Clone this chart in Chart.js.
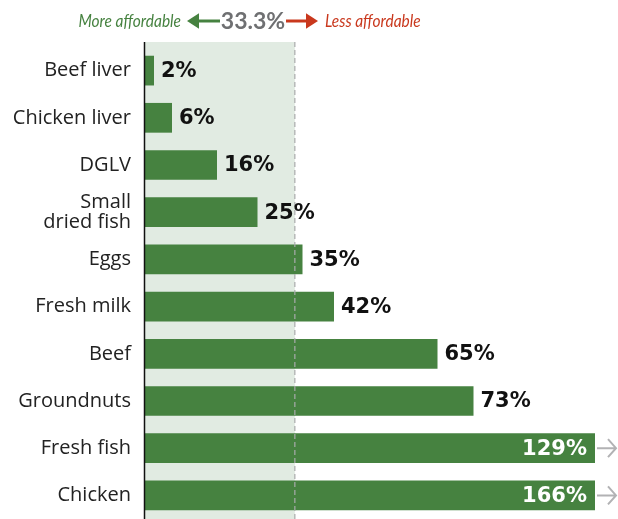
<!DOCTYPE html>
<html>
<head>
<meta charset="utf-8">
<script src="https://cdn.jsdelivr.net/npm/chart.js@4"></script>
<style>
  html, body { margin: 0; padding: 0; background: #fff; }
  #wrap { width: 618px; height: 519px; position: relative; }
</style>
</head>
<body>
<div id="wrap"><canvas id="costChart"></canvas></div>
<script>
const categories = ["Beef liver", "Chicken liver", "DGLV", ["Small", "dried fish"], "Eggs",
  "Fresh milk", "Beef", "Groundnuts", "Fresh fish", "Chicken"];
const shares = [2, 6, 16, 25, 35, 42, 65, 73, 129, 166];
const threshold = 33.3;
const axisMax = 100;

const GREEN = "#468240";
const RED = "#c9381d";
const GREY = "#6f7072";

function arrow(ctx, x1, x2, y, color, width, head) {
  const dir = Math.sign(x2 - x1);
  ctx.strokeStyle = color;
  ctx.fillStyle = color;
  ctx.lineWidth = width;
  ctx.beginPath();
  ctx.moveTo(x1, y);
  ctx.lineTo(x2 - dir * head, y);
  ctx.stroke();
  ctx.beginPath();
  ctx.moveTo(x2, y);
  ctx.lineTo(x2 - dir * head, y - head * 0.65);
  ctx.lineTo(x2 - dir * head, y + head * 0.65);
  ctx.closePath();
  ctx.fill();
}

// open chevron arrow for bars running past the axis
function chevron(ctx, x1, x2, y) {
  ctx.strokeStyle = "#b2b2b4";
  ctx.lineWidth = 2;
  ctx.beginPath();
  ctx.moveTo(x1, y);
  ctx.lineTo(x2, y);
  ctx.moveTo(x2 - 8, y - 9);
  ctx.lineTo(x2, y);
  ctx.lineTo(x2 - 8, y + 9);
  ctx.stroke();
}

// narrow italic text: squeeze horizontally around the anchor
function narrowText(ctx, text, x, y, squeeze) {
  ctx.save();
  ctx.translate(x, y);
  ctx.scale(squeeze, 1);
  ctx.fillText(text, 0, 0);
  ctx.restore();
}

// shaded "affordable" band behind the bars
const bandPlugin = {
  id: "band",
  beforeDatasetsDraw(chart) {
    const { ctx, scales: { x }, chartArea } = chart;
    ctx.save();
    ctx.fillStyle = "#e1ebe2";
    ctx.fillRect(x.getPixelForValue(0), 42, x.getPixelForValue(threshold) - x.getPixelForValue(0), chartArea.bottom - 42);
    ctx.restore();
  }
};

// threshold line, axis line, value labels, header
const overlayPlugin = {
  id: "overlay",
  afterDatasetsDraw(chart) {
    const { ctx, scales: { x }, chartArea } = chart;
    const meta = chart.getDatasetMeta(0);
    ctx.save();

    const tx = x.getPixelForValue(threshold);
    ctx.strokeStyle = "#a9aaac";
    ctx.lineWidth = 1.2;
    ctx.setLineDash([5, 3]);
    ctx.beginPath();
    ctx.moveTo(tx, 42);
    ctx.lineTo(tx, chartArea.bottom);
    ctx.stroke();
    ctx.setLineDash([]);

    const x0 = x.getPixelForValue(0);
    ctx.strokeStyle = "#111";
    ctx.lineWidth = 1.5;
    ctx.beginPath();
    ctx.moveTo(x0 - 0.5, 42);
    ctx.lineTo(x0 - 0.5, chartArea.bottom);
    ctx.stroke();

    ctx.font = "bold 21px 'DejaVu Sans'";
    ctx.textBaseline = "middle";
    meta.data.forEach((bar, i) => {
      const v = shares[i];
      const text = v + "%";
      if (v > axisMax) {
        ctx.fillStyle = "#fff";
        ctx.textAlign = "right";
        ctx.fillText(text, chartArea.right - 8, bar.y + 1);
        chevron(ctx, chartArea.right + 2, chartArea.right + 21, bar.y);
      } else {
        ctx.fillStyle = "#111";
        ctx.textAlign = "left";
        ctx.fillText(text, bar.x + 7, bar.y + 1);
      }
    });

    // header
    ctx.textBaseline = "middle";
    ctx.font = "italic 18px Lato";
    ctx.fillStyle = GREEN;
    ctx.textAlign = "right";
    narrowText(ctx, "More affordable", 181, 21, 0.86);
    arrow(ctx, 220, 187, 21, GREEN, 3, 12);
    ctx.font = "bold 23px Lato";
    ctx.fillStyle = GREY;
    ctx.textAlign = "center";
    ctx.fillText("33.3%", 253, 22);
    arrow(ctx, 286, 318, 21, RED, 3, 12);
    ctx.font = "italic 18px Lato";
    ctx.fillStyle = RED;
    ctx.textAlign = "left";
    narrowText(ctx, "Less affordable", 325, 21, 0.86);

    ctx.restore();
  }
};

new Chart(document.getElementById("costChart"), {
  type: "bar",
  data: {
    labels: categories,
    datasets: [{
      label: "Cost share",
      data: shares,
      backgroundColor: GREEN,
      borderWidth: 0,
      barPercentage: 0.63,
      categoryPercentage: 1
    }]
  },
  options: {
    indexAxis: "y",
    responsive: true,
    maintainAspectRatio: false,
    animation: false,
    layout: { padding: { top: 47, right: 23, bottom: 0, left: 0 } },
    plugins: { legend: { display: false }, tooltip: { enabled: false } },
    scales: {
      x: { display: false, min: 0, max: axisMax },
      y: {
        afterFit(scale) {
          scale.width = 145;
          scale.paddingTop = 0;
          scale.paddingBottom = 0;
        },
        grid: { display: false, drawTicks: false },
        border: { display: false },
        ticks: {
          padding: 14,
          color: "#222",
          font: { family: "'Open Sans'", size: 20, lineHeight: 0.98 }
        }
      }
    }
  },
  plugins: [bandPlugin, overlayPlugin]
});
</script>
</body>
</html>
